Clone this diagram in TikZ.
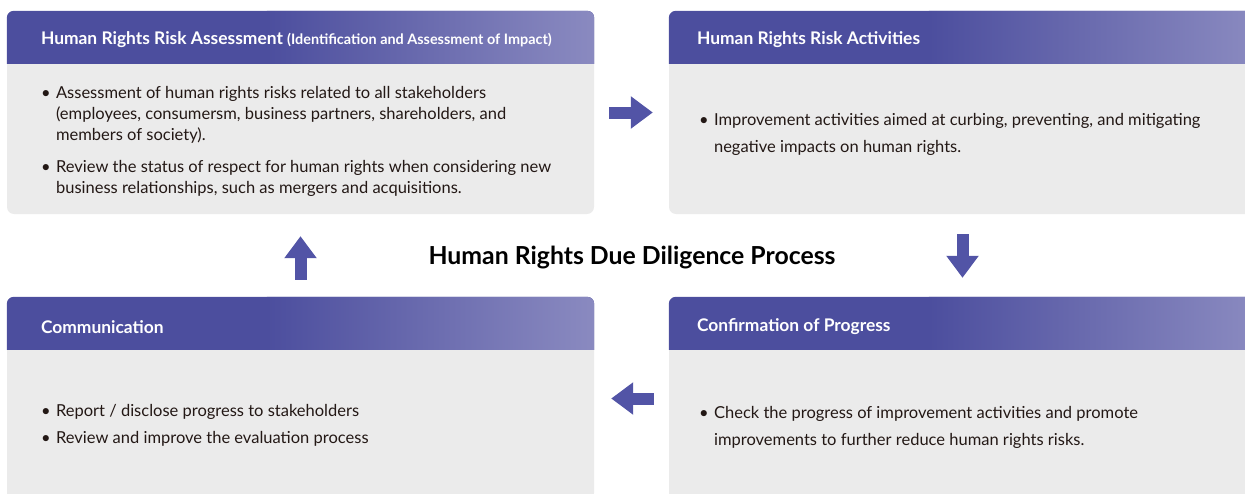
\documentclass[tikz,border=0pt]{standalone}
\usepackage{fontspec}
\setmainfont{Lato}
\usetikzlibrary{arrows.meta}
\definecolor{hdr_dark}{RGB}{76,78,158}
\definecolor{hdr_light}{RGB}{138,138,192}
\definecolor{box_gray}{RGB}{235,235,235}
\definecolor{arrow_blue}{RGB}{82,84,166}
\definecolor{text_dark}{RGB}{35,24,21}

\begin{document}
\begin{tikzpicture}[x=1pt,y=-1pt,line join=round]
    \tikzstyle{box}=[rectangle, rounded corners=7pt, fill=box_gray, minimum width=587pt, minimum height=203pt, inner sep=0pt]
    \tikzstyle{head}=[anchor=west, text=white, font=\fontsize{17.4}{20}\selectfont\bfseries, inner sep=0pt]
    \tikzstyle{body}=[anchor=west, text=text_dark, font=\fontsize{16.5}{21}\selectfont, inner sep=0pt, align=left]
    \tikzstyle{flow}=[draw=arrow_blue, line width=12pt, -{Triangle[width=31pt,length=22pt]}]

    \useasboundingbox (0,0) rectangle (1245,493);
    \clip (0,0) rectangle (1245,493);

    \node[box] (assess) at (300.5,112.5) {};
    \node[box] (act)    at (962.5,112.5) {};
    \node[box] (comm)   at (300.5,398.5) {};
    \node[box] (conf)   at (962.5,398.5) {};

    % header bands
    \foreach \n in {assess,act,comm,conf} {
      \fill[hdr_dark] ([yshift=-53pt]\n.north west) [rounded corners=7pt] -- (\n.north west) -- (\n.north east) [sharp corners] -- ([yshift=-53pt]\n.north east) -- cycle;
      \shade[left color=hdr_dark, right color=hdr_light] ([xshift=260pt,yshift=-53pt]\n.north west) -- ([xshift=260pt]\n.north west) [rounded corners=7pt] -- (\n.north east) [sharp corners] -- ([yshift=-53pt]\n.north east) -- cycle;
    }

    \node[head] (assess_h) at ([xshift=34pt,yshift=-29pt]assess.north west) {Human Rights Risk Assessment {\fontsize{14.4}{16}\selectfont(Identification and Assessment of Impact)}};
    \node[head] (act_h)    at ([xshift=28pt,yshift=-29pt]act.north west)    {Human Rights Risk Activities};
    \node[head] (comm_h)   at ([xshift=34pt,yshift=-30pt]comm.north west)   {Communication};
    \node[head] (conf_h)   at ([xshift=28pt,yshift=-30pt]conf.north west)   {Confirmation of Progress};

    \node[body] (assess_b) at ([xshift=34pt,yshift=-29pt]assess.west) {\begin{tabular}{@{}l@{\hspace{5.5pt}}l@{}}
      \textbullet & Assessment of human rights risks related to all stakeholders\\
       & (employees, consumersm, business partners, shareholders, and\\
       & members of society).\\[11pt]
      \textbullet & Review the status of respect for human rights when considering new\\
       & business relationships, such as mergers and acquisitions.
    \end{tabular}};
    \node[body] (act_b) at ([xshift=30pt,yshift=-22pt]act.west) {\begin{tabular}{@{}l@{\hspace{5.5pt}}l@{}}
      \textbullet & Improvement activities aimed at curbing, preventing, and mitigating\\[6pt]
       & negative impacts on human rights.
    \end{tabular}};
    \node[body] (comm_b) at ([xshift=34pt,yshift=-27pt]comm.west) {\begin{tabular}{@{}l@{\hspace{5.5pt}}l@{}}
      \textbullet & Report / disclose progress to stakeholders\\[6pt]
      \textbullet & Review and improve the evaluation process
    \end{tabular}};
    \node[body] (conf_b) at ([xshift=30pt,yshift=-29pt]conf.west) {\begin{tabular}{@{}l@{\hspace{5.5pt}}l@{}}
      \textbullet & Check the progress of improvement activities and promote\\[6pt]
       & improvements to further reduce human rights risks.
    \end{tabular}};

    \node[font=\fontsize{24.8}{28}\selectfont\bfseries, text=black] (title) at (632,258) {Human Rights Due Diligence Process};

    \path
     (assess) edge[flow, shorten <=15pt, shorten >=16pt] (act)
     (act)    edge[flow, shorten <=20pt, shorten >=19pt] (conf)
     (conf)   edge[flow, shorten <=15pt, shorten >=17pt] (comm)
     (comm)   edge[flow, shorten <=17pt, shorten >=22pt] (assess)
     ;
\end{tikzpicture}
\end{document}
